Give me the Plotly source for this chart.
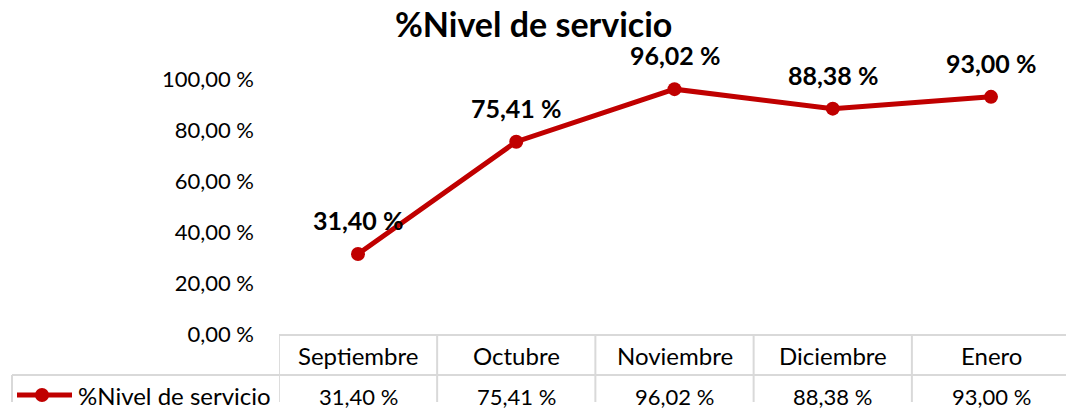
import plotly.graph_objects as go

# ---- data ----
title_text = "%Nivel de servicio"
series_name = "%Nivel de servicio"
categories = ["Septiembre", "Octubre", "Noviembre", "Diciembre", "Enero"]
values = [31.40, 75.41, 96.02, 88.38, 93.00]
y_tick_vals = [0, 20, 40, 60, 80, 100]


def fmt(v):
    return f"{v:.2f}".replace(".", ",") + " %"


y_tick_text = [fmt(v) for v in y_tick_vals]

# ---- layout constants ----
W, H = 1066, 415
HE = 402  # effective rendered height of the plot in the browser viewport
RED = "#C00000"
GRID = "#D9D9D9"
FONT = "Lato"


def px_x(p):
    return p / W


def px_y(p):
    return 1 - p / HE


fig = go.Figure()
fig.add_trace(
    go.Scatter(
        x=categories,
        y=values,
        mode="lines+markers",
        name=series_name,
        line=dict(color=RED, width=5),
        marker=dict(color=RED, size=14),
        showlegend=False,
        hoverinfo="skip",
    )
)

annotations = []
# data labels
for c, v in zip(categories, values):
    annotations.append(
        dict(x=c, y=v, xref="x", yref="y", text=f"<b>{fmt(v)}</b>", showarrow=False,
             yshift=34, font=dict(family=FONT, size=25, color="black"))
    )
# title
annotations.append(
    dict(x=0.5, y=px_y(24), xref="paper", yref="paper", text=f"<b>{title_text}</b>",
         showarrow=False, xanchor="center", yanchor="middle",
         font=dict(family=FONT, size=34, color="black"))
)
# data table: header row and values row
for c, v in zip(categories, values):
    annotations.append(
        dict(x=c, y=px_y(355), xref="x", yref="paper", text=c, showarrow=False,
             yanchor="middle", font=dict(family=FONT, size=24, color="black"))
    )
    annotations.append(
        dict(x=c, y=px_y(396), xref="x", yref="paper", text=fmt(v), showarrow=False,
             yanchor="middle", font=dict(family=FONT, size=22, color="black"))
    )
# legend key text in table
annotations.append(
    dict(x=px_x(76), y=px_y(395), xref="paper", yref="paper", text=series_name,
         showarrow=False, xanchor="left", yanchor="middle",
         font=dict(family=FONT, size=24, color="black"))
)

shapes = []
# horizontal table lines
shapes.append(dict(type="line", xref="paper", yref="paper", x0=px_x(279), x1=1,
                   y0=px_y(335), y1=px_y(335), line=dict(color=GRID, width=2)))
shapes.append(dict(type="line", xref="paper", yref="paper", x0=px_x(12), x1=1,
                   y0=px_y(375), y1=px_y(375), line=dict(color=GRID, width=2)))
# vertical table lines at category boundaries
for i in range(len(categories)):
    shapes.append(dict(type="line", xref="x", yref="paper", x0=i - 0.5, x1=i - 0.5,
                       y0=px_y(335), y1=0, line=dict(color=GRID, width=2)))
shapes.append(dict(type="line", xref="paper", yref="paper", x0=px_x(12), x1=px_x(12),
                   y0=px_y(375), y1=0, line=dict(color=GRID, width=2)))
# legend key: line + marker
shapes.append(dict(type="line", xref="paper", yref="paper", x0=px_x(17), x1=px_x(72),
                   y0=px_y(395), y1=px_y(395), line=dict(color=RED, width=5)))
shapes.append(dict(type="circle", xref="paper", yref="paper", x0=px_x(35), x1=px_x(49),
                   y0=px_y(402), y1=px_y(388), fillcolor=RED, line=dict(color=RED, width=0)))

# y axis: 0 at y=334px, 100 at y=79px
y_per_unit = (334 - 79) / 100
y_top_val = 130
y_top_px = 334 - y_top_val * y_per_unit

# x axis: category 0 at 358px, spacing 158.25px, domain left at 279px
x_left_px = 279
x_unit = 158.25
x_range = [(x_left_px - 358) / x_unit, (W - 358) / x_unit]

fig.update_layout(
    width=W,
    height=H,
    margin=dict(l=0, r=0, t=0, b=0),
    paper_bgcolor="white",
    plot_bgcolor="white",
    font=dict(family=FONT, color="black"),
    xaxis=dict(domain=[px_x(x_left_px), 1], range=x_range, showticklabels=False,
               showgrid=False, zeroline=False, showline=False, ticks=""),
    yaxis=dict(domain=[px_y(334), px_y(y_top_px)], range=[0, y_top_val],
               tickvals=y_tick_vals, ticktext=y_tick_text, showgrid=False,
               zeroline=False, showline=False, ticks="", ticklabelstandoff=24,
               tickfont=dict(family=FONT, size=22, color="black")),
    annotations=annotations,
    shapes=shapes,
)

fig.write_html(
    "out.html",
    config={"displayModeBar": False},
    post_script="document.body.style.margin='0';document.body.style.overflow='hidden';",
)
